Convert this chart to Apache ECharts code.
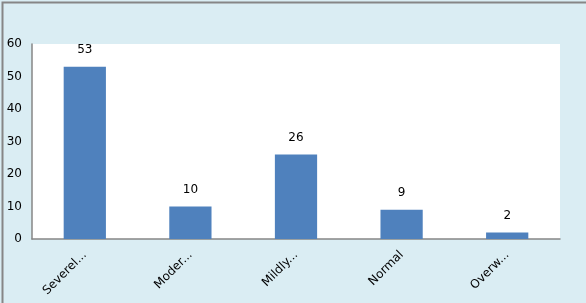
<!DOCTYPE html>
<html><head><meta charset="utf-8">
<script src="https://cdn.jsdelivr.net/npm/echarts@6/dist/echarts.min.js"></script>
<style>html,body{margin:0;padding:0;background:#fff}#c{width:586px;height:303px}</style>
</head><body><div id="c"></div>
<script>
const categories = ["Severel...", "Moder...", "Mildly...", "Normal", "Overw..."];
const values = [53, 10, 26, 9, 2];
const yTicks = [0, 10, 20, 30, 40, 50, 60];

const chart = echarts.init(document.getElementById('c'));
chart.setOption({
  backgroundColor: '#DAEDF3',
  animation: false,
  graphic: [{
    type: 'rect', left: 0, top: 0, z: 100,
    shape: {x: 0.5, y: 0.5, width: 585, height: 302},
    style: {fill: 'none', stroke: '#868686', lineWidth: 2}
  }],
  grid: {left: 32, right: 26, top: 44, bottom: 64, show: true, backgroundColor: '#ffffff', borderWidth: 0},
  xAxis: {
    type: 'category', data: categories,
    axisLine: {lineStyle: {color: '#868686', width: 1.5}},
    axisTick: {show: false},
    axisLabel: {rotate: 45, color: '#000', fontFamily: 'DejaVu Sans', fontSize: 12, margin: 14, interval: 0}
  },
  yAxis: {
    type: 'value', min: yTicks[0], max: yTicks[yTicks.length - 1], interval: 10,
    axisLine: {show: true, lineStyle: {color: '#868686', width: 1.5}},
    axisTick: {show: false},
    splitLine: {show: false},
    axisLabel: {color: '#000', fontFamily: 'DejaVu Sans', fontSize: 12, margin: 10}
  },
  series: [{
    type: 'bar', data: values, barWidth: '40%',
    itemStyle: {color: '#4F81BD'},
    label: {show: true, position: 'top', distance: 11, color: '#000', fontFamily: 'DejaVu Sans', fontSize: 12}
  }]
});
</script></body></html>
